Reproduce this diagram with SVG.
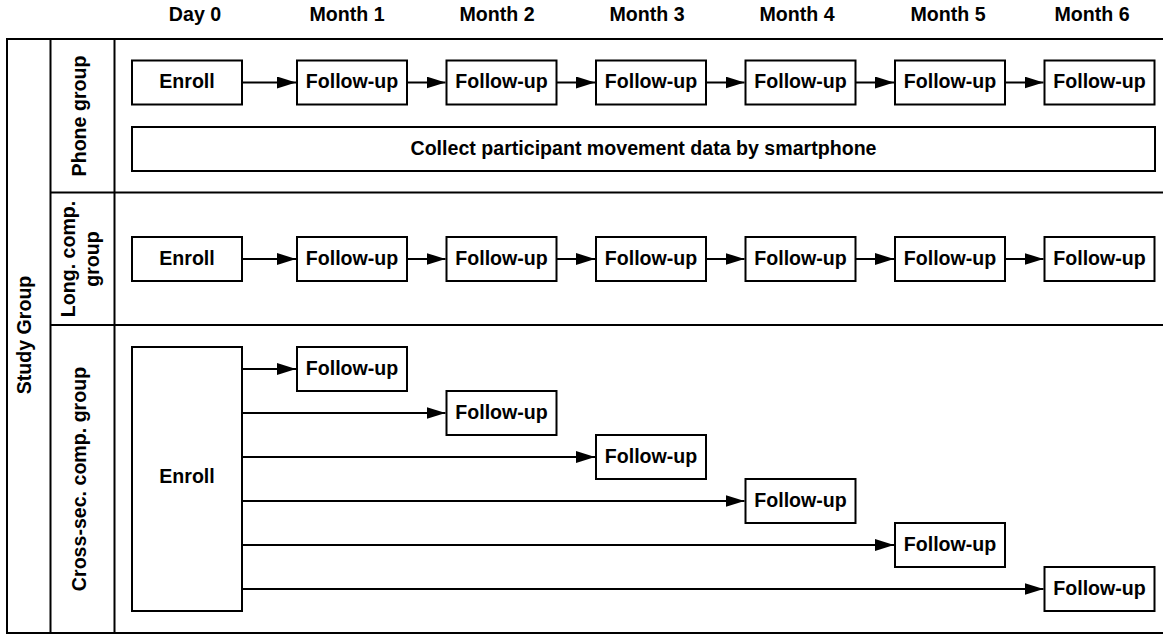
<svg xmlns="http://www.w3.org/2000/svg" width="1163" height="635" viewBox="0 0 1163 635">
<style>
text{font-family:"Liberation Sans",Arial,Helvetica,sans-serif;font-weight:bold;font-size:19.6px;fill:#000;text-anchor:middle}
.box{fill:#fff;stroke:#000;stroke-width:2}
.frame{fill:none;stroke:#000;stroke-width:2}
.conn{stroke:#000;stroke-width:2;fill:none;marker-end:url(#arr)}
</style>
<defs>
<marker id="arr" markerUnits="userSpaceOnUse" markerWidth="20" markerHeight="13" refX="19" refY="6" orient="auto">
<path d="M0,0 L19,6 L0,12 z" fill="#000"/>
</marker>
</defs>
<rect width="1163" height="635" fill="#fff"/>
<g id="headers">
<text x="195" y="21">Day 0</text>
<text x="347" y="21">Month 1</text>
<text x="497" y="21">Month 2</text>
<text x="647" y="21">Month 3</text>
<text x="797" y="21">Month 4</text>
<text x="948" y="21">Month 5</text>
<text x="1092" y="21">Month 6</text>
</g>
<g id="frame">
<path class="frame" d="M1163,39 H7 V633 H1163"/>
<path class="frame" d="M50.5,39 V633 M114.5,39 V633 M50.5,192.5 H1163 M50.5,325 H1163"/>
</g>
<g id="lane-labels">
<text transform="translate(31,335) rotate(-90)">Study Group</text>
<text transform="translate(86,116) rotate(-90)">Phone group</text>
<text transform="translate(75,259) rotate(-90)">Long. comp.</text>
<text transform="translate(98.5,259) rotate(-90)">group</text>
<text transform="translate(86,479) rotate(-90)">Cross-sec. comp. group</text>
</g>
<g id="connectors">
<path class="conn" d="M242,82.5 H296"/>
<path class="conn" d="M407,82.5 H445.5"/>
<path class="conn" d="M556.5,82.5 H595"/>
<path class="conn" d="M706,82.5 H744.5"/>
<path class="conn" d="M855.5,82.5 H894"/>
<path class="conn" d="M1005,82.5 H1043.5"/>
<path class="conn" d="M242,259 H296"/>
<path class="conn" d="M407,259 H445.5"/>
<path class="conn" d="M556.5,259 H595"/>
<path class="conn" d="M706,259 H744.5"/>
<path class="conn" d="M855.5,259 H894"/>
<path class="conn" d="M1005,259 H1043.5"/>
<path class="conn" d="M242,369 H296"/>
<path class="conn" d="M242,413 H445.5"/>
<path class="conn" d="M242,457 H595"/>
<path class="conn" d="M242,501 H744.5"/>
<path class="conn" d="M242,545 H894"/>
<path class="conn" d="M242,589 H1043.5"/>
</g>
<g id="phone-enroll"><rect class="box" x="132" y="60.5" width="110" height="44"/><text x="187" y="88">Enroll</text></g>
<g id="phone-m1"><rect class="box" x="297" y="60.5" width="110" height="44"/><text x="352" y="88">Follow-up</text></g>
<g id="phone-m2"><rect class="box" x="446.5" y="60.5" width="110" height="44"/><text x="501.5" y="88">Follow-up</text></g>
<g id="phone-m3"><rect class="box" x="596" y="60.5" width="110" height="44"/><text x="651" y="88">Follow-up</text></g>
<g id="phone-m4"><rect class="box" x="745.5" y="60.5" width="110" height="44"/><text x="800.5" y="88">Follow-up</text></g>
<g id="phone-m5"><rect class="box" x="895" y="60.5" width="110" height="44"/><text x="950" y="88">Follow-up</text></g>
<g id="phone-m6"><rect class="box" x="1044.5" y="60.5" width="110" height="44"/><text x="1099.5" y="88">Follow-up</text></g>
<g id="phone-collect"><rect class="box" x="132" y="127" width="1023" height="44"/><text x="643.5" y="154.5">Collect participant movement data by smartphone</text></g>
<g id="long-enroll"><rect class="box" x="132" y="237" width="110" height="44"/><text x="187" y="264.5">Enroll</text></g>
<g id="long-m1"><rect class="box" x="297" y="237" width="110" height="44"/><text x="352" y="264.5">Follow-up</text></g>
<g id="long-m2"><rect class="box" x="446.5" y="237" width="110" height="44"/><text x="501.5" y="264.5">Follow-up</text></g>
<g id="long-m3"><rect class="box" x="596" y="237" width="110" height="44"/><text x="651" y="264.5">Follow-up</text></g>
<g id="long-m4"><rect class="box" x="745.5" y="237" width="110" height="44"/><text x="800.5" y="264.5">Follow-up</text></g>
<g id="long-m5"><rect class="box" x="895" y="237" width="110" height="44"/><text x="950" y="264.5">Follow-up</text></g>
<g id="long-m6"><rect class="box" x="1044.5" y="237" width="110" height="44"/><text x="1099.5" y="264.5">Follow-up</text></g>
<g id="cross-enroll"><rect class="box" x="132" y="347" width="110" height="264"/><text x="187" y="483">Enroll</text></g>
<g id="cross-m1"><rect class="box" x="297" y="347" width="110" height="44"/><text x="352" y="374.5">Follow-up</text></g>
<g id="cross-m2"><rect class="box" x="446.5" y="391" width="110" height="44"/><text x="501.5" y="418.5">Follow-up</text></g>
<g id="cross-m3"><rect class="box" x="596" y="435" width="110" height="44"/><text x="651" y="462.5">Follow-up</text></g>
<g id="cross-m4"><rect class="box" x="745.5" y="479" width="110" height="44"/><text x="800.5" y="506.5">Follow-up</text></g>
<g id="cross-m5"><rect class="box" x="895" y="523" width="110" height="44"/><text x="950" y="550.5">Follow-up</text></g>
<g id="cross-m6"><rect class="box" x="1044.5" y="567" width="110" height="44"/><text x="1099.5" y="594.5">Follow-up</text></g>
</svg>
